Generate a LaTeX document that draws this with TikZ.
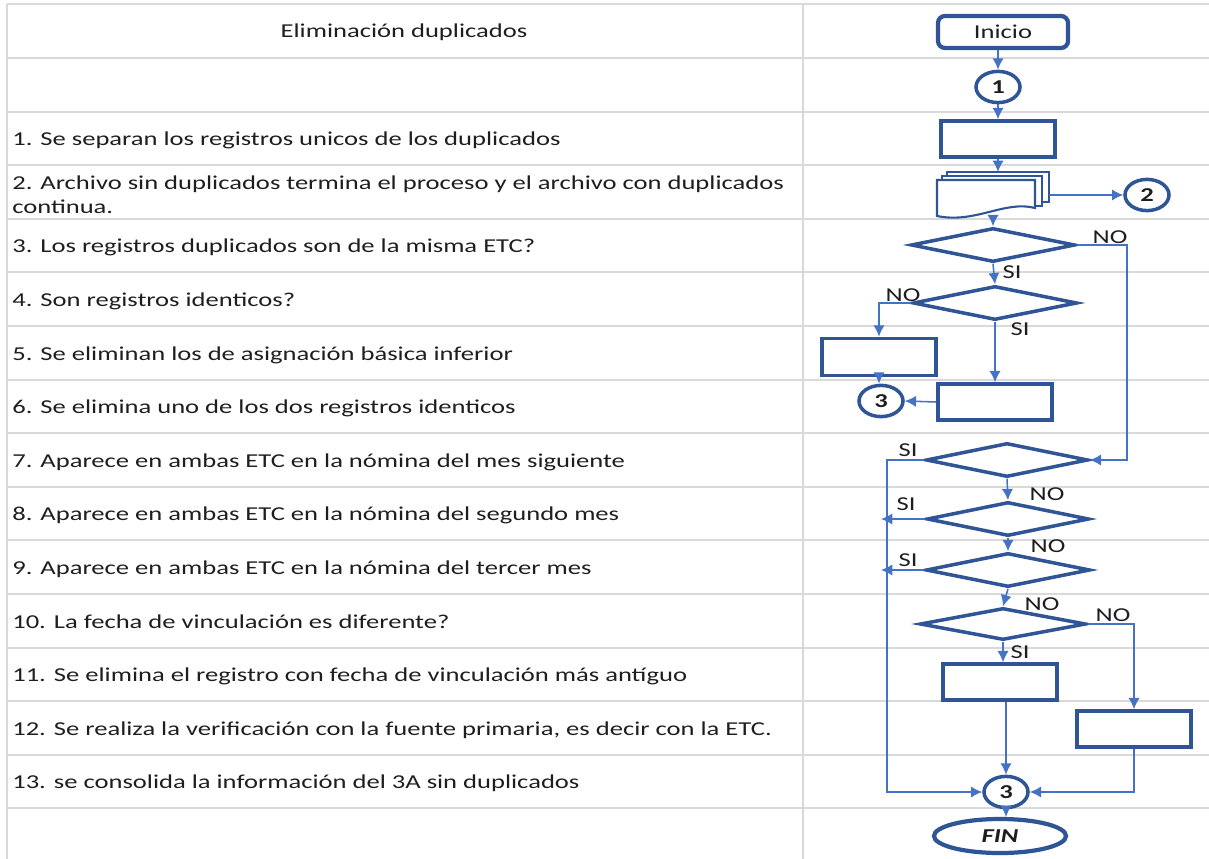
\documentclass[tikz,border=0pt]{standalone}
\usepackage{fontspec}
\setmainfont{Carlito}[FakeStretch=1.35]
\usetikzlibrary{shapes.geometric,arrows.meta}
\definecolor{borde}{RGB}{47,85,151}
\definecolor{azulclaro}{RGB}{68,114,196}
\definecolor{rejilla}{RGB}{217,217,217}
\definecolor{tinta}{RGB}{30,30,30}

\begin{document}
\begin{tikzpicture}[x=0.025cm,y=-0.025cm,
    caja/.style={draw=borde,line width=2.5pt,minimum width=2.85cm,minimum height=0.9cm,inner sep=0pt},
    rombo/.style={draw=borde,line width=2.5pt,diamond,minimum width=4.1cm,minimum height=0.85cm,inner sep=0pt},
    conector/.style={draw=borde,line width=2.5pt,ellipse,minimum width=1.1cm,minimum height=0.78cm,inner sep=0pt,font=\bfseries\fontsize{14}{16}\selectfont,text=tinta},
    flecha/.style={draw=azulclaro,line width=1.1pt,-{Latex[length=8pt,width=8pt]}},
    etiq/.style={font=\fontsize{14}{16}\selectfont,text=tinta,inner sep=0pt},
    texto/.style={anchor=west,font=\fontsize{14}{17}\selectfont,text=tinta,inner sep=0pt,align=left}]

  \useasboundingbox (0,0) rectangle (1209,859);

  % tabla
  \foreach \y in {4,58,112,165,219,272,326,380,433,487,540,594,648,701,755,808}
    \draw[rejilla,line width=1.2pt] (7,\y) -- (1209,\y);
  \draw[rejilla,line width=1.2pt] (7,4) -- (7,859);
  \draw[rejilla,line width=1.2pt] (803,4) -- (803,859);

  \node[etiq] (titulo) at (404,32) {Eliminación duplicados};
  \node[texto] (r1)  at (12,140) {1. Se separan los registros unicos de los duplicados};
  \node[texto] (r2)  at (12,195) {2. Archivo sin duplicados termina el proceso y el archivo con duplicados\\continua.};
  \node[texto] (r3)  at (12,247) {3. Los registros duplicados son de la misma ETC?};
  \node[texto] (r4)  at (12,301) {4. Son registros identicos?};
  \node[texto] (r5)  at (12,355) {5. Se eliminan los de asignación básica inferior};
  \node[texto] (r6)  at (12,408) {6. Se elimina uno de los dos registros identicos};
  \node[texto] (r7)  at (12,462) {7. Aparece en ambas ETC en la nómina del mes siguiente};
  \node[texto] (r8)  at (12,515) {8. Aparece en ambas ETC en la nómina del segundo mes};
  \node[texto] (r9)  at (12,569) {9. Aparece en ambas ETC en la nómina del tercer mes};
  \node[texto] (r10) at (12,622) {10. La fecha de vinculación es diferente?};
  \node[texto] (r11) at (12,676) {11. Se elimina el registro con fecha de vinculación más antíguo};
  \node[texto] (r12) at (12,730) {12. Se realiza la verificación con la fuente primaria, es decir con la ETC.};
  \node[texto] (r13) at (12,783) {13. se consolida la información del 3A sin duplicados};

  % diagrama
  \node[draw=borde,line width=3pt,rounded corners=5pt,minimum width=3.25cm,minimum height=0.8cm,etiq] (ini) at (1003,32) {Inicio};
  \node[conector] (c1) at (998,87) {1};
  \node[caja] (p1) at (998,139) {};

  \draw[borde,line width=1.5pt,fill=white] (947,172) rectangle (1049,202);
  \draw[borde,line width=1.5pt,fill=white] (942,176) rectangle (1042,206);
  \draw[borde,line width=1.5pt,fill=white] (937,180) -- (1035,180) -- (1035,208)
    .. controls (1005,200) and (975,224) .. (937,216) -- cycle;
  \coordinate (docT) at (997,172);
  \coordinate (docR) at (1049,195);
  \coordinate (docB) at (993,217);
  \node[conector] (c2) at (1147,195) {2};

  \node[rombo] (d1) at (993,245) {};
  \node[rombo] (d2) at (995,303) {};
  \node[caja,minimum height=0.93cm] (p5) at (879,357) {};
  \node[caja] (p6) at (995,402) {};
  \node[conector] (c3a) at (881,401) {3};
  \node[rombo,minimum width=4.05cm] (d3) at (1007,460) {};
  \node[rombo,minimum width=4.05cm] (d4) at (1008,519) {};
  \node[rombo,minimum width=4.1cm] (d5) at (1008,570) {};
  \node[rombo,minimum width=4.15cm,minimum height=0.8cm] (d6) at (1003,624) {};
  \node[caja] (p11) at (1000,682) {};
  \node[caja] (p12) at (1134,729) {};
  \node[conector] (c3b) at (1006,792) {3};
  \node[draw=borde,line width=3pt,ellipse,minimum width=3.3cm,minimum height=0.85cm,inner sep=0pt,
    font=\bfseries\itshape\fontsize{14}{16}\selectfont,text=tinta] (fin) at (1000,836) {FIN};

  \coordinate (noX) at (1127,0);
  \coordinate (busT) at (887,460);
  \coordinate (busB) at (887,792);

  \draw[flecha] (ini.south -| c1) -- (c1);
  \draw[flecha] (c1) -- (p1);
  \draw[flecha] (p1) -- (p1.south |- docT);
  \draw[flecha] (docR) -- (c2);
  \draw[flecha] (docB) -- (d1.north);
  \draw[flecha] (d1.east) -- (d1.east -| noX) -- (noX |- d3.east) -- (d3.east);
  \draw[flecha] (d1.south) -- (d2.north);
  \draw[flecha] (d2.west) -| (p5.north);
  \draw[flecha] (d2.south) -- (d2.south |- p6.north);
  \draw[flecha] (p5.south) -- (p5.south |- c3a.north);
  \draw[flecha] (p6.west) -- (c3a.east);
  \draw[flecha] (d3.west) -- (busT) -- (busB) -- (c3b.west);
  \draw[flecha] (d3.south) -- (d4.north);
  \draw[flecha,shorten >=-0.15cm] (d4.west) -- (d4.west -| busT);
  \draw[flecha] (d4.south) -- (d5.north);
  \draw[flecha,shorten >=-0.15cm] (d5.west) -- (d5.west -| busT);
  \draw[flecha] (d5.south) -- (d6.north);
  \draw[flecha] (d6.east) -| (p12.north);
  \draw[flecha] (d6.south) -- (d6.south |- p11.north);
  \draw[flecha] (c3b.north |- p11.south) -- (c3b.north);
  \draw[flecha] (p12.south) |- (c3b.east);
  \draw[flecha] (c3b.south) -- (c3b.south |- fin.north);

  \node[etiq] (no1) at (1110,237) {NO};
  \node[etiq] (si1) at (1012,272) {SI};
  \node[etiq] (no2) at (903,295) {NO};
  \node[etiq] (si2) at (1020,329) {SI};
  \node[etiq] (si3) at (908,450) {SI};
  \node[etiq] (no3) at (1047,494) {NO};
  \node[etiq] (si4) at (906,504) {SI};
  \node[etiq] (no4) at (1048,546) {NO};
  \node[etiq] (si5) at (908,560) {SI};
  \node[etiq] (no5) at (1042,604) {NO};
  \node[etiq] (no6) at (1113,615) {NO};
  \node[etiq] (si6) at (1020,652) {SI};
\end{tikzpicture}
\end{document}
